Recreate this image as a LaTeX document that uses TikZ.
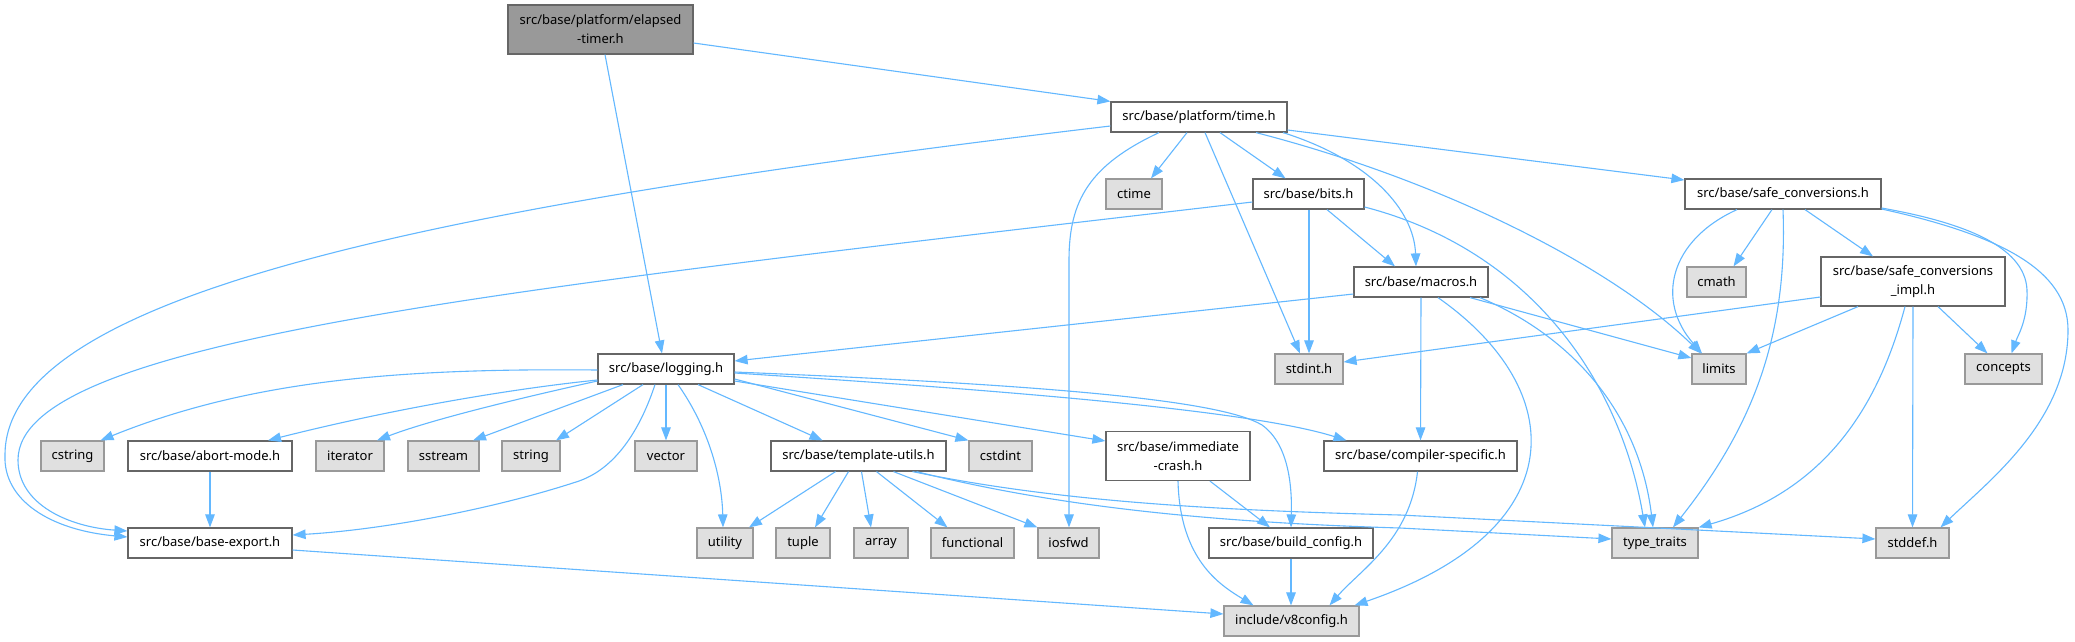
\documentclass[tikz,border=0pt]{standalone}
\usepackage{fontspec}
\setmainfont{Noto Sans}
\usetikzlibrary{arrows.meta}
\definecolor{edgec}{HTML}{63B8FF}
\definecolor{wborder}{HTML}{666666}
\definecolor{gborder}{HTML}{999999}
\definecolor{gfill}{HTML}{E0E0E0}
\definecolor{rootfill}{HTML}{999999}
\begin{document}
\begin{tikzpicture}[x=1pt,y=-1pt,
  font=\fontsize{13}{19}\selectfont,
  box/.style={draw, line width=1.2pt, inner sep=0pt, minimum height=30pt, align=center, text=black},
  wbox/.style={box, draw=wborder, fill=white},
  gbox/.style={box, draw=gborder, fill=gfill},
  rbox/.style={box, draw=wborder, fill=rootfill},
  lnk/.style={draw=edgec, line width=1.1pt, -{Triangle[length=13pt,width=9.5pt]}}]
\useasboundingbox (0,0) rectangle (2075,641);
\fill[white] (0,0) rectangle (2075,641);
% nodes
\node[rbox, minimum width=185pt, minimum height=49pt] (et) at (600.5,29.5) {src/base/platform/elapsed\\-timer.h};
\node[wbox, minimum width=176pt] (time) at (1199,117) {src/base/platform/time.h};
\node[gbox, minimum width=56pt] (ctime) at (1134,194) {ctime};
\node[wbox, minimum width=111pt] (bits) at (1308.5,194) {src/base/bits.h};
\node[wbox, minimum width=196pt] (safe) at (1783,194) {src/base/safe\_conversions.h};
\node[wbox, minimum width=134pt] (macros) at (1421,282) {src/base/macros.h};
\node[gbox, minimum width=59pt] (cmath) at (1716.5,282) {cmath};
\node[wbox, minimum width=184pt, minimum height=49pt] (simpl) at (1913,281.5) {src/base/safe\_conversions\\\_impl.h};
\node[wbox, minimum width=136pt] (logging) at (666,369) {src/base/logging.h};
\node[gbox, minimum width=68pt] (stdint) at (1309,369) {stdint.h};
\node[gbox, minimum width=54pt] (limits) at (1719,369) {limits};
\node[gbox, minimum width=77pt] (concepts) at (2003.5,369) {concepts};
\node[gbox, minimum width=63pt] (cstring) at (72.5,456) {cstring};
\node[wbox, minimum width=164pt] (abort) at (210,456) {src/base/abort-mode.h};
\node[gbox, minimum width=68pt] (iterator) at (350,456) {iterator};
\node[gbox, minimum width=71pt] (sstream) at (443.5,456) {sstream};
\node[gbox, minimum width=58pt] (string) at (531,456) {string};
\node[gbox, minimum width=62pt] (vector) at (666,456) {vector};
\node[wbox, minimum width=175pt] (tmpl) at (858.5,456) {src/base/template-utils.h};
\node[gbox, minimum width=63pt] (cstdint) at (1000.5,456) {cstdint};
\node[wbox, minimum width=144pt, minimum height=49pt] (imm) at (1178,456) {src/base/immediate\\-crash.h};
\node[wbox, minimum width=193pt] (comp) at (1420.5,456) {src/base/compiler-specific.h};
\node[wbox, minimum width=164pt] (bexp) at (210,543) {src/base/base-export.h};
\node[gbox, minimum width=56pt] (utility) at (725,543) {utility};
\node[gbox, minimum width=54pt] (tuple) at (803,543) {tuple};
\node[gbox, minimum width=54pt] (array) at (881,543) {array};
\node[gbox, minimum width=83pt] (functional) at (972.5,543) {functional};
\node[gbox, minimum width=61pt] (iosfwd) at (1068.5,543) {iosfwd};
\node[wbox, minimum width=164pt] (build) at (1291,543) {src/base/build\_config.h};
\node[gbox, minimum width=86pt] (ttraits) at (1655,543) {type\_traits};
\node[gbox, minimum width=73pt] (stddef) at (1912.5,543) {stddef.h};
\node[gbox, minimum width=135pt] (v8) at (1291.5,621) {include/v8config.h};
% edges from elapsed-timer
\draw[lnk] ([yshift=-13.5pt]et.east) -- (time.north west);
\draw[lnk] ([xshift=4.5pt]et.south) -- ([xshift=-4pt]logging.north);
% edges from time.h
\draw[lnk] ([yshift=-9pt]time.west) .. controls (400,210) and (5,300) .. (5,455) .. controls (3,500) and (50,530) .. ([yshift=6pt]bexp.west);
\draw[lnk] ([xshift=-12pt]time.south) -- ([xshift=17pt]ctime.north);
\draw[lnk] ([xshift=-40pt]time.south) .. controls (1090,165) and (1069,200) .. (1069,260) -- ([xshift=0.5pt]iosfwd.north);
\draw[lnk] ([xshift=6pt]time.south) -- ([xshift=-9pt]stdint.north);
\draw[lnk] ([xshift=21pt]time.south) -- ([xshift=-23pt]bits.north);
\draw[lnk] ([xshift=84pt]time.south) .. controls (1370,160) and (1414,210) .. ([xshift=-5pt]macros.north);
\draw[lnk] ([xshift=57pt]time.south) .. controls (1440,180) and (1610,265) .. ([xshift=-18pt]limits.north);
\draw[lnk] ([yshift=-13pt]time.east) -- ([yshift=14pt]safe.west);
% edges from bits.h
\draw[lnk] ([yshift=-8pt]bits.west) .. controls (500,290) and (18,340) .. (18,460) .. controls (18,505) and (70,527) .. ([yshift=12pt]bexp.west);
\draw[lnk] ([xshift=0.5pt]bits.south) -- (stdint.north);
\draw[lnk] ([xshift=18.5pt]bits.south) -- ([xshift=-26pt]macros.north);
\draw[lnk] ([yshift=-13pt]bits.east) .. controls (1530,250) and (1620,380) .. ([xshift=-10pt]ttraits.north);
% edges from safe_conversions.h
\draw[lnk] ([xshift=-46pt]safe.south) .. controls (1670,240) and (1655,300) .. ([xshift=-17pt]limits.north);
\draw[lnk] ([xshift=-11pt]safe.south) -- ([xshift=17pt]cmath.north);
\draw[lnk] (safe.south) .. controls (1788,340) and (1750,430) .. ([xshift=18pt]ttraits.north);
\draw[lnk] ([xshift=22pt]safe.south) -- ([xshift=-40pt]simpl.north);
\draw[lnk] ([yshift=-14pt]safe.east) .. controls (1960,222) and (2025,245) .. (2027,290) .. controls (2028,320) and (2018,335) .. ([xshift=8pt]concepts.north);
\draw[lnk] ([yshift=-15pt]safe.east) .. controls (2000,235) and (2068,270) .. (2068,330) .. controls (2068,420) and (1990,480) .. ([xshift=28pt]stddef.north);
% edges from safe_conversions_impl.h
\draw[lnk] ([yshift=-15.5pt]simpl.west) -- ([yshift=7pt]stdint.east);
\draw[lnk] ([xshift=-55pt]simpl.south) -- (limits.north east);
\draw[lnk] ([xshift=-8pt]simpl.south) .. controls (1880,400) and (1830,490) .. (ttraits.north east);
\draw[lnk] (simpl.south) -- (stddef.north);
\draw[lnk] ([xshift=25pt]simpl.south) -- ([xshift=-16pt]concepts.north);
% edges from macros.h
\draw[lnk] ([yshift=-12pt]macros.west) -- ([yshift=8pt]logging.east);
\draw[lnk] (macros.south) -- (comp.north);
\draw[lnk] ([xshift=17pt]macros.south) .. controls (1570,390) and (1575,530) .. ([xshift=63pt]v8.north);
\draw[lnk] ([xshift=59pt]macros.south) .. controls (1580,340) and (1640,420) .. ([xshift=-2pt]ttraits.north);
\draw[lnk] ([xshift=49pt]macros.south) -- ([yshift=11pt]limits.west);
% edges from logging.h
\draw[lnk] ([yshift=-1pt]logging.west) .. controls (400,368) and (250,380) .. ([xshift=28pt]cstring.north);
\draw[lnk] ([yshift=-11pt]logging.west) .. controls (500,390) and (380,412) .. ([xshift=58pt]abort.north);
\draw[lnk] ([yshift=-12pt]logging.west) .. controls (520,398) and (430,420) .. ([xshift=27pt]iterator.north);
\draw[lnk] ([xshift=-43pt]logging.south) -- ([xshift=29.5pt]sstream.north);
\draw[lnk] ([xshift=-23pt]logging.south) -- ([xshift=25pt]string.north);
\draw[lnk] ([xshift=-11pt]logging.south) .. controls (640,430) and (615,470) .. (576,482) .. controls (490,510) and (380,530) .. ([yshift=8pt]bexp.east);
\draw[lnk] (logging.south) -- (vector.north);
\draw[lnk] ([xshift=12pt]logging.south) .. controls (710,430) and (722,480) .. ([xshift=-2pt]utility.north);
\draw[lnk] ([xshift=32pt]logging.south) -- ([xshift=-36pt]tmpl.north);
\draw[lnk] ([yshift=-10pt]logging.east) -- (cstdint.north west);
\draw[lnk] ([yshift=-12pt]logging.east) -- ([yshift=15pt]imm.west);
\draw[lnk] ([yshift=-4pt]logging.east) .. controls (1000,390) and (1250,410) .. ([xshift=-74pt]comp.north);
\draw[lnk] ([yshift=-3pt]logging.east) .. controls (1050,385) and (1220,400) .. (1262,425) .. controls (1290,445) and (1292,490) .. (build.north);
% edges from template-utils.h
\draw[lnk] ([xshift=-23pt]tmpl.south) -- ([xshift=24pt]utility.north);
\draw[lnk] ([xshift=-10pt]tmpl.south) -- ([xshift=12pt]tuple.north);
\draw[lnk] ([xshift=3pt]tmpl.south) -- ([xshift=-10pt]array.north);
\draw[lnk] ([xshift=18pt]tmpl.south) -- ([xshift=-25pt]functional.north);
\draw[lnk] ([xshift=35pt]tmpl.south) -- (iosfwd.north west);
\draw[lnk] ([xshift=58pt]tmpl.south) .. controls (1050,505) and (1200,522) .. (1400,528) -- ([yshift=4pt]ttraits.west);
\draw[lnk] ([xshift=54pt]tmpl.south) .. controls (1050,500) and (1200,510) .. (1400,515) -- ([yshift=4pt]stddef.west);
% remaining edges
\draw[lnk] (imm.south) .. controls (1180,560) and (1220,585) .. ([xshift=-38pt]v8.north);
\draw[lnk] ([xshift=32pt]imm.south) -- ([xshift=-21pt]build.north);
\draw[lnk] ([xshift=-3pt]comp.south) .. controls (1410,540) and (1360,570) .. ([xshift=38pt]v8.north);
\draw[lnk] (build.south) -- ([xshift=-0.5pt]v8.north);
\draw[lnk] (abort.south) -- (bexp.north);
\draw[lnk] ([yshift=-7pt]bexp.east) -- ([yshift=7pt]v8.west);
\end{tikzpicture}
\end{document}
